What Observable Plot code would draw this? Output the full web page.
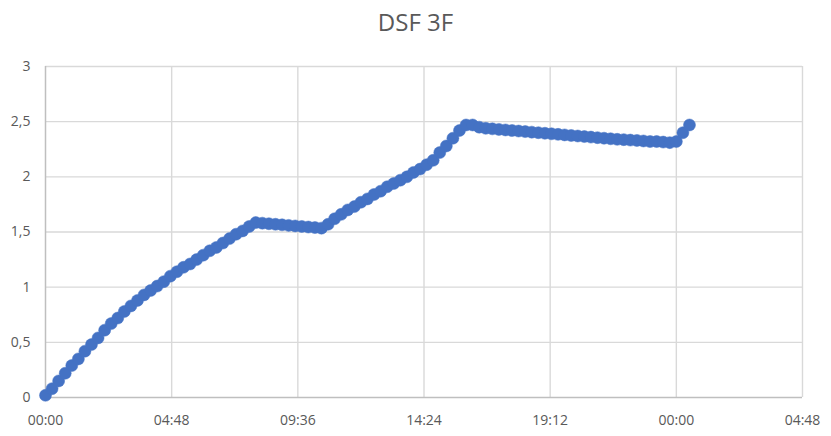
<!DOCTYPE html>
<html>
<head>
<meta charset="utf-8">
<script src="https://cdn.jsdelivr.net/npm/d3@7"></script>
<script src="https://cdn.jsdelivr.net/npm/@observablehq/plot@0.6"></script>
<style>
  html, body { margin: 0; padding: 0; background: #fff; }
  #wrap { width: 831px; height: 436px; position: relative; font-family: "Open Sans", sans-serif; }
  #title { height: 48px; line-height: 44px; text-align: center; font-size: 24px; color: #595959; }
</style>
</head>
<body>
<div id="wrap">
  <div id="title">DSF 3F</div>
  <div id="chart"></div>
</div>
<script>
// Chart data
const title = "DSF 3F";
const stepHours = 0.25; // one reading every 15 minutes
const values = [
  0.02, 0.08, 0.15, 0.22, 0.29, 0.35, 0.42, 0.48, 0.54, 0.61,
  0.67, 0.72, 0.78, 0.83, 0.88, 0.93, 0.97, 1.01, 1.05, 1.10,
  1.14, 1.18, 1.21, 1.25, 1.29, 1.33, 1.36, 1.40, 1.44, 1.48,
  1.51, 1.55, 1.585, 1.58, 1.575, 1.57, 1.565, 1.56, 1.555, 1.55,
  1.545, 1.54, 1.535, 1.57, 1.62, 1.66, 1.70, 1.73, 1.77, 1.80,
  1.84, 1.87, 1.91, 1.94, 1.97, 2.00, 2.04, 2.07, 2.11, 2.15,
  2.22, 2.28, 2.35, 2.42, 2.47, 2.47, 2.45, 2.44, 2.435, 2.43,
  2.425, 2.42, 2.415, 2.41, 2.405, 2.40, 2.395, 2.39, 2.385, 2.38,
  2.375, 2.37, 2.365, 2.36, 2.355, 2.35, 2.345, 2.34, 2.337, 2.333,
  2.33, 2.325, 2.32, 2.32, 2.315, 2.31, 2.32, 2.40, 2.47
];
const xTicks = [0, 4.8, 9.6, 14.4, 19.2, 24, 28.8];
const xTickLabels = ["00:00", "04:48", "09:36", "14:24", "19:12", "00:00", "04:48"];
const yTicks = [0, 0.5, 1, 1.5, 2, 2.5, 3];
const yTickLabels = ["0", "0,5", "1", "1,5", "2", "2,5", "3"];

const data = values.map((v, i) => ({ hours: i * stepHours, value: v }));
const blue = "#4472C4";

const chart = Plot.plot({
  width: 831,
  height: 388,
  marginTop: 18,
  marginBottom: 39,
  marginLeft: 45,
  marginRight: 29,
  style: { fontFamily: "Open Sans, sans-serif", color: "#595959", background: "#fff" },
  x: { domain: [0, 28.8] },
  y: { domain: [0, 3] },
  marks: [
    Plot.ruleX(xTicks.slice(1), { stroke: "#d9d9d9", strokeWidth: 1.4 }),
    Plot.ruleY(yTicks.slice(1), { stroke: "#d9d9d9", strokeWidth: 1.4 }),
    Plot.ruleX([0], { stroke: "#bfbfbf", strokeWidth: 1.5 }),
    Plot.ruleY([0], { stroke: "#bfbfbf", strokeWidth: 1.5 }),
    Plot.axisX(xTicks, { tickSize: 0, tickPadding: 18, fontSize: 14, tickFormat: (d, i) => xTickLabels[i], fill: "#595959", label: null }),
    Plot.axisY(yTicks, { tickSize: 0, tickPadding: 15, fontSize: 14, tickFormat: (d, i) => yTickLabels[i], fill: "#595959", label: null }),
    Plot.line(data, { x: "hours", y: "value", stroke: blue, strokeWidth: 4 }),
    Plot.dot(data, { x: "hours", y: "value", r: 6, fill: blue, stroke: blue, strokeWidth: 0.5 })
  ]
});
document.getElementById("chart").appendChild(chart);
</script>
</body>
</html>
